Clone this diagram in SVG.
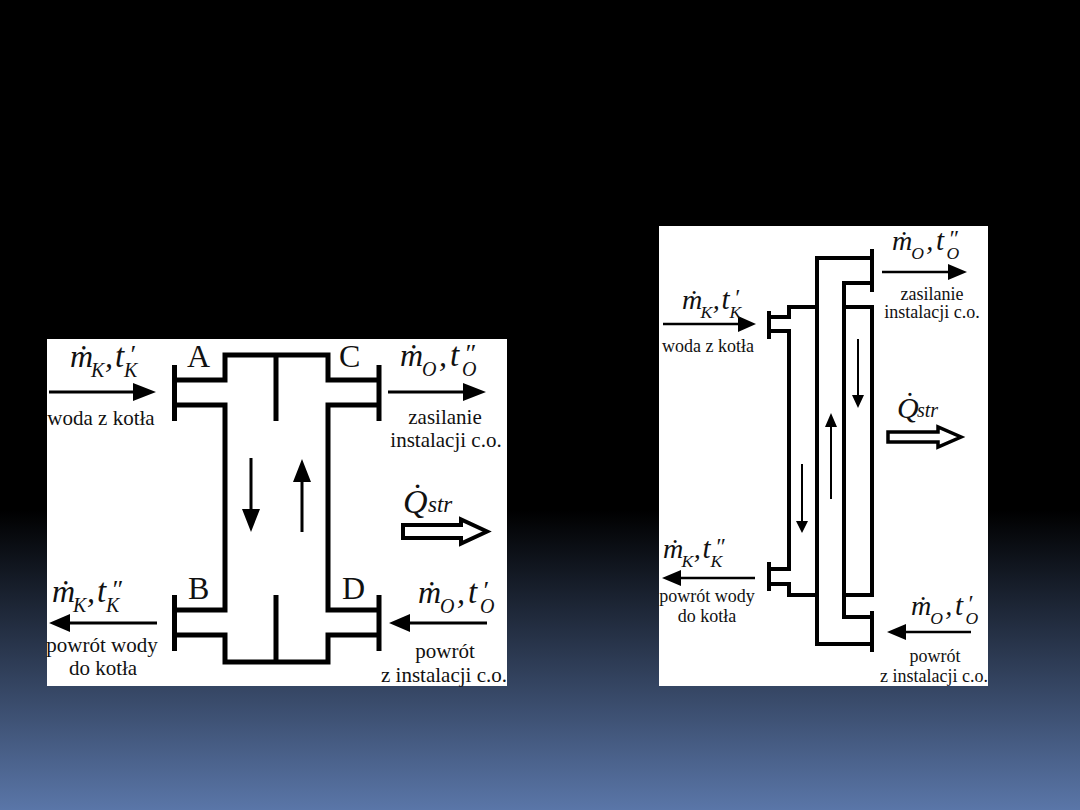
<svg xmlns="http://www.w3.org/2000/svg" width="1080" height="810" viewBox="0 0 1080 810">
<style>
.p{fill:none;stroke:#000;stroke-width:5;stroke-linejoin:miter;stroke-linecap:butt}
.q{fill:none;stroke:#000;stroke-width:4;stroke-linejoin:miter;stroke-linecap:butt}
.l{stroke:#000;fill:none}
.h{fill:#000}
text{font-family:"Liberation Serif","Times New Roman",serif;fill:#111}
.c{text-anchor:middle}
.t1{font-size:21px}
.t2{font-size:18px}
.big{font-size:32px}
.m{font-size:32px;font-style:italic}
.tt{font-size:33px;font-style:italic}
.s{font-size:20px;font-style:italic}
.pr{font-size:26px;font-style:italic}
</style>
<defs>
<linearGradient id="bg" x1="0" y1="0" x2="0" y2="1">
<stop offset="0" stop-color="#000"/>
<stop offset="0.63" stop-color="#000"/>
<stop offset="1" stop-color="#5a76a8"/>
</linearGradient>
</defs>
<rect width="1080" height="810" fill="url(#bg)"/>
<rect x="47" y="339" width="460" height="347" fill="#fff"/>
<rect x="659" y="226" width="329" height="460" fill="#fff"/>

<g id="left-exchanger">
<path class="p" d="M174.500 365V421M174.500 380H225V355H328V380H379M276 355V421M379 365V421M174.500 405H225V610H174.500M379 405H328V610H379M174.500 595V651M379 595V651M174.500 635H225V662H328V635H379M276 595V662"/>
</g>
<g id="left-connectors">
<path class="l" stroke-width="3" d="M49 392H135M388 392H465M157 623H68M487 623H408"/>
<path class="h" d="M133 383L156 392L133 401ZM463 383L486 392L463 401ZM70 614L49 623L70 632ZM410 614L389 623L410 632Z"/>
<path class="l" stroke-width="3" d="M251 458V512M302 480V532"/>
<path class="h" d="M242 509H260L251 532ZM293 482H311L302 459Z"/>
<path d="M403 525H461V519.500L487 531.500L461 543.500V538H403Z" fill="#fff" stroke="#000" stroke-width="4"/>
</g>
<g id="left-labels">
<text class="big" x="187" y="367">A</text>
<text class="big" x="339" y="367">C</text>
<text class="big" x="188" y="599">B</text>
<text class="big" x="342" y="599">D</text>
<g transform="translate(70,367)"><text><tspan class="m" x="0" y="0">ṁ</tspan><tspan class="s" x="21" y="10">K</tspan><tspan class="m" x="35" y="0">,</tspan><tspan class="tt" x="45" y="0">t</tspan><tspan class="pr" x="59" y="-4">′</tspan><tspan class="s" x="54" y="10">K</tspan></text></g>
<g transform="translate(400,366)"><text><tspan class="m" x="0" y="0">ṁ</tspan><tspan class="s" x="22" y="10">O</tspan><tspan class="m" x="39" y="0">,</tspan><tspan class="tt" x="50" y="0">t</tspan><tspan class="pr" x="64" y="-4">″</tspan><tspan class="s" x="62" y="10">O</tspan></text></g>
<g transform="translate(52,602)"><text><tspan class="m" x="0" y="0">ṁ</tspan><tspan class="s" x="21" y="10">K</tspan><tspan class="m" x="35" y="0">,</tspan><tspan class="tt" x="45" y="0">t</tspan><tspan class="pr" x="59" y="-4">″</tspan><tspan class="s" x="54" y="10">K</tspan></text></g>
<g transform="translate(418,603)"><text><tspan class="m" x="0" y="0">ṁ</tspan><tspan class="s" x="22" y="10">O</tspan><tspan class="m" x="39" y="0">,</tspan><tspan class="tt" x="50" y="0">t</tspan><tspan class="pr" x="64" y="-4">′</tspan><tspan class="s" x="62" y="10">O</tspan></text></g>
<text class="t1 c" x="101" y="425">woda z kotła</text>
<text class="t1 c" x="445" y="424">zasilanie</text>
<text class="t1 c" x="446" y="447">instalacji c.o.</text>
<text class="t1 c" x="102" y="652">powrót wody</text>
<text class="t1 c" x="103" y="675">do kotła</text>
<text class="t1 c" x="445" y="658">powrót</text>
<text class="t1 c" x="444" y="682">z instalacji c.o.</text>
<text font-style="italic"><tspan x="403" y="513" font-size="34">Q̇</tspan><tspan x="428" y="512" font-size="23">str</tspan></text>
</g>

<g id="right-exchanger">
<path class="q" d="M872 249V292M872 258H817V644H872M872 283H844V617H872M872 611V652M844 307H872V595H844M817 307H789V317H769M769 311V339M769 331H789V569H769M769 562V591M769 584H789V595H817"/>
</g>
<g id="right-connectors">
<path class="l" stroke-width="2.500" d="M663 324H740M882 272H950M755 578H679M971 632H904"/>
<path class="h" d="M738 316L756 324L738 332ZM948 264L967 272L948 280ZM681 570L662 578L681 586ZM906 624L887 632L906 640Z"/>
<path class="l" stroke-width="2" d="M858 339V397M831 425V499M802 464V523"/>
<path class="h" d="M852 395H864L858 408ZM825 427H837L831 413ZM796 521H808L802 533Z"/>
<path d="M888 432H938V427L961 437L938 447V442H888Z" fill="#fff" stroke="#000" stroke-width="3.500"/>
</g>
<g id="right-labels">
<g transform="translate(682,309) scale(.88)"><text><tspan class="m" x="0" y="0">ṁ</tspan><tspan class="s" x="21" y="10">K</tspan><tspan class="m" x="35" y="0">,</tspan><tspan class="tt" x="45" y="0">t</tspan><tspan class="pr" x="59" y="-4">′</tspan><tspan class="s" x="54" y="10">K</tspan></text></g>
<g transform="translate(892,250) scale(.88)"><text><tspan class="m" x="0" y="0">ṁ</tspan><tspan class="s" x="22" y="10">O</tspan><tspan class="m" x="39" y="0">,</tspan><tspan class="tt" x="50" y="0">t</tspan><tspan class="pr" x="64" y="-4">″</tspan><tspan class="s" x="62" y="10">O</tspan></text></g>
<g transform="translate(663,558) scale(.88)"><text><tspan class="m" x="0" y="0">ṁ</tspan><tspan class="s" x="21" y="10">K</tspan><tspan class="m" x="35" y="0">,</tspan><tspan class="tt" x="45" y="0">t</tspan><tspan class="pr" x="59" y="-4">″</tspan><tspan class="s" x="54" y="10">K</tspan></text></g>
<g transform="translate(911,615) scale(.88)"><text><tspan class="m" x="0" y="0">ṁ</tspan><tspan class="s" x="22" y="10">O</tspan><tspan class="m" x="39" y="0">,</tspan><tspan class="tt" x="50" y="0">t</tspan><tspan class="pr" x="64" y="-4">′</tspan><tspan class="s" x="62" y="10">O</tspan></text></g>
<text class="t2 c" x="708" y="352">woda z kotła</text>
<text class="t2 c" x="932" y="300">zasilanie</text>
<text class="t2 c" x="932" y="318">instalacji c.o.</text>
<text class="t2 c" x="707" y="602">powrót wody</text>
<text class="t2 c" x="707" y="622">do kotła</text>
<text class="t2 c" x="935" y="662">powrót</text>
<text class="t2 c" x="934" y="682">z instalacji c.o.</text>
<text font-style="italic"><tspan x="897" y="418" font-size="30">Q̇</tspan><tspan x="917" y="417" font-size="20">str</tspan></text>
</g>
</svg>
